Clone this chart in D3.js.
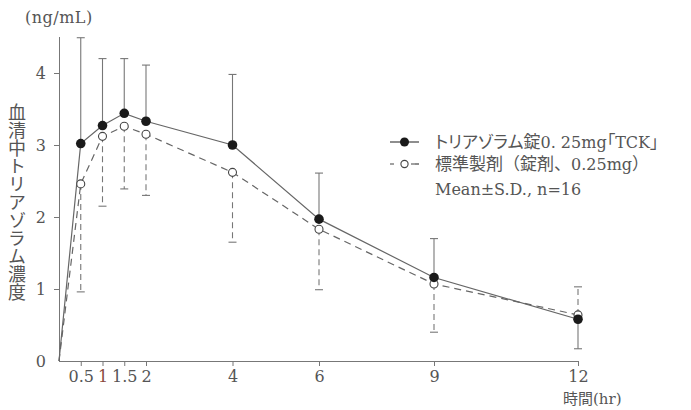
<!DOCTYPE html>
<html lang="ja">
<head>
<meta charset="UTF-8">
<title>血清中トリアゾラム濃度</title>
<style>
  body { margin: 0; background: #fff; }
  svg text { font-family: "DejaVu Serif", "Noto Sans CJK JP", serif; fill: #555; }
  .jp { font-family: "Noto Sans CJK JP", sans-serif; font-feature-settings: "palt"; }
  .axis path, .axis line { stroke: #777; }
</style>
<script src="https://cdn.jsdelivr.net/npm/d3@7"></script>
</head>
<body>
<svg id="chart" width="691" height="410"></svg>
<script>
// time points (hr)
const times = [0, 0.5, 1, 1.5, 2, 4, 6, 9, 12];
const xTicks = [0.5, 1, 1.5, 2, 4, 6, 9, 12];
const yTicks = [0, 1, 2, 3, 4];

// トリアゾラム錠0.25mg「TCK」 (filled)
const tckMean = [0, 3.02, 3.27, 3.44, 3.33, 3.00, 1.97, 1.16, 0.58];
const tckSD   = [0, 1.47, 0.93, 0.76, 0.78, 0.98, 0.64, 0.54, 0.41];
const tckDir  = [0, 1, 1, 1, 1, 1, 1, 1, -1];

// 標準製剤 (open)
const refMean = [0, 2.46, 3.12, 3.26, 3.15, 2.62, 1.83, 1.07, 0.64];
const refSD   = [0, 1.50, 0.97, 0.87, 0.85, 0.97, 0.84, 0.67, 0.39];
const refDir  = [0, -1, -1, -1, -1, -1, -1, -1, 1];

const svg = d3.select('#chart');

// the time axis is not evenly spaced in the original
const x = d3.scaleLinear()
  .domain([0, 2, 6, 9, 12])
  .range([59, 146, 319, 434, 578]);
const y = d3.scaleLinear().domain([0, 4]).range([361, 73]);

// axes
const xAxis = svg.append('g').attr('class', 'axis')
  .attr('transform', `translate(0,${y(0)})`)
  .call(d3.axisBottom(x).tickValues(xTicks).tickSize(5).tickSizeOuter(0)
    .tickFormat(d => d));
xAxis.select('.domain').attr('d', `M${x(0)},0.5H${x(12)}`);
xAxis.selectAll('text').attr('dy', '0.8em').style('font-size', '16px')
  .style('fill', d => d === 1 ? '#8a4a3c' : '#555');

const yAxis = svg.append('g').attr('class', 'axis')
  .attr('transform', `translate(${x(0)},0)`)
  .call(d3.axisLeft(y).tickValues(yTicks).tickSize(5).tickSizeOuter(0)
    .tickFormat(d => d));
yAxis.select('.domain').attr('d', `M0.5,${y(0)}V${y(4.5)}`);
yAxis.selectAll('text').attr('x', -13).style('font-size', '16px');
yAxis.selectAll('.tick').filter(d => d === 0).select('line').remove();

const pts = (means, sds, dirs) => times.map((t, i) => ({t, m: means[i], sd: sds[i], dir: dirs[i]}));
const tck = pts(tckMean, tckSD, tckDir);
const ref = pts(refMean, refSD, refDir);

const line = d3.line().x(d => x(d.t)).y(d => y(d.m));

function errorBars(data, dash) {
  const g = svg.append('g')
    .attr('stroke', '#777').attr('stroke-width', 1.1).attr('fill', 'none');
  const eb = data.filter(d => d.sd > 0);
  g.selectAll('.bar').data(eb).join('line')
    .attr('x1', d => x(d.t)).attr('x2', d => x(d.t))
    .attr('y1', d => y(d.m)).attr('y2', d => y(d.m + d.dir * d.sd))
    .attr('stroke-dasharray', dash);
  g.selectAll('.cap').data(eb).join('line')
    .attr('x1', d => x(d.t) - 4).attr('x2', d => x(d.t) + 4)
    .attr('y1', d => y(d.m + d.dir * d.sd)).attr('y2', d => y(d.m + d.dir * d.sd));
}
errorBars(ref, '6,4');
errorBars(tck, null);

svg.append('path').datum(ref).attr('d', line)
  .attr('fill', 'none').attr('stroke', '#666').attr('stroke-width', 1.2)
  .attr('stroke-dasharray', '7,5');
svg.append('path').datum(tck).attr('d', line)
  .attr('fill', 'none').attr('stroke', '#666').attr('stroke-width', 1.2);

svg.selectAll('.refpt').data(ref.slice(1)).join('circle')
  .attr('cx', d => x(d.t)).attr('cy', d => y(d.m)).attr('r', 4)
  .attr('fill', '#fff').attr('stroke', '#444').attr('stroke-width', 1.1);
svg.selectAll('.tckpt').data(tck.slice(1)).join('circle')
  .attr('cx', d => x(d.t)).attr('cy', d => y(d.m)).attr('r', 4.8)
  .attr('fill', '#1a1a1a');

// axis titles
svg.append('text').attr('x', 25).attr('y', 23).style('font-size', '16px')
  .style('letter-spacing', '0.5px').text('(ng/mL)');
svg.append('text').attr('class', 'jp').attr('x', 17).attr('y', 103)
  .style('writing-mode', 'vertical-rl').style('font-size', '18px')
  .style('font-feature-settings', 'normal').text('血清中トリアゾラム濃度');
const xt = svg.append('text').attr('x', 563).attr('y', 404).style('font-size', '15px');
xt.append('tspan').attr('class', 'jp').style('font-size', '15px').text('時間');
xt.append('tspan').text('(hr)');

// legend
const lg = svg.append('g');
lg.append('line').attr('x1', 390).attr('x2', 419).attr('y1', 142).attr('y2', 142)
  .attr('stroke', '#444').attr('stroke-width', 1.2);
lg.append('circle').attr('cx', 404.5).attr('cy', 142).attr('r', 4.5).attr('fill', '#1a1a1a');
lg.append('line').attr('x1', 390).attr('x2', 419).attr('y1', 164).attr('y2', 164)
  .attr('stroke', '#444').attr('stroke-width', 1.2).attr('stroke-dasharray', '4,17');
lg.append('line').attr('x1', 415).attr('x2', 419).attr('y1', 164).attr('y2', 164)
  .attr('stroke', '#444').attr('stroke-width', 1.2);
lg.append('circle').attr('cx', 404.5).attr('cy', 164).attr('r', 3.6)
  .attr('fill', '#fff').attr('stroke', '#444').attr('stroke-width', 1.1);

const t1 = lg.append('text').attr('x', 435).attr('y', 148).style('font-size', '16px');
t1.append('tspan').attr('class', 'jp').style('font-size', '17px').text('トリアゾラム錠');
t1.append('tspan').text('0. 25mg');
t1.append('tspan').attr('class', 'jp').style('font-size', '17px').text('「');
t1.append('tspan').text('TCK');
t1.append('tspan').attr('class', 'jp').style('font-size', '17px').text('」');
const t2 = lg.append('text').attr('x', 435).attr('y', 170).style('font-size', '16px');
t2.append('tspan').attr('class', 'jp').style('font-size', '17px')
  .style('font-feature-settings', 'normal').text('標準製剤（錠剤、');
t2.append('tspan').text('0.25mg');
t2.append('tspan').attr('class', 'jp').style('font-size', '17px')
  .style('font-feature-settings', 'normal').text('）');
lg.append('text').attr('x', 435).attr('y', 195).style('font-size', '16px')
  .text('Mean±S.D., n=16');
</script>
</body>
</html>
